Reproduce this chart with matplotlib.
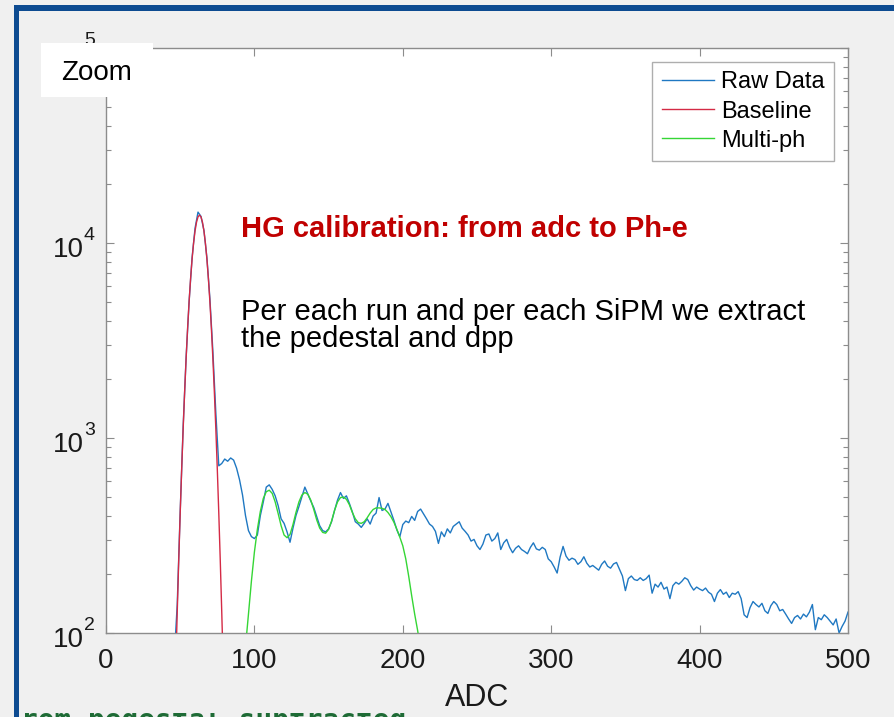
import numpy as np
import matplotlib
matplotlib.use("Agg")
import matplotlib.pyplot as plt
from matplotlib.patches import Rectangle
from matplotlib.transforms import ScaledTranslation, blended_transform_factory
from matplotlib.ticker import FixedLocator, FixedFormatter, LogLocator, NullFormatter

plt.rcParams['font.family'] = ['Liberation Sans', 'DejaVu Sans']

# ---------------- data ----------------
adc_raw = np.arange(44, 501, 2)
counts_raw = [
    40, 75, 140, 420, 1150, 2600, 5000, 8400, 11900, 14400,
    13700, 11600, 8400, 5200, 2800, 1350, 720, 740, 780, 760,
    790, 770, 700, 610, 510, 400, 335, 312, 305, 318,
    # 104..200
    400, 470, 560, 575, 545, 505, 450, 385, 365, 330,
    292, 345, 400, 445, 500, 560, 515, 475, 440, 395,
    355, 335, 330, 342, 372, 425, 480, 525, 490, 505,
    462, 418, 372, 362, 348, 365, 385, 362, 398, 412,
    495, 425, 432, 462, 418, 378, 338, 312, 360,
    # 202..300
    375, 368, 396, 378, 420, 432, 408, 385, 362, 352,
    332, 288, 330, 312, 342, 326, 352, 362, 372, 345,
    332, 318, 296, 302, 280, 268, 286, 318, 322, 296,
    305, 326, 268, 290, 302, 275, 258, 272, 280, 268,
    262, 255, 275, 290, 270, 266, 275, 268, 240, 232,
    # 302..400
    218, 203, 245, 278, 248, 236, 242, 238, 225, 232,
    246, 228, 218, 222, 216, 210, 225, 234, 220, 215,
    226, 230, 212, 196, 165, 190, 196, 188, 186, 192,
    186, 190, 198, 160, 178, 172, 182, 168, 172, 150,
    175, 182, 178, 184, 192, 188, 175, 166, 172, 168,
    # 402..500
    165, 170, 162, 158, 145, 160, 167, 158, 162, 152,
    160, 158, 163, 150, 124, 120, 135, 145, 140, 136,
    142, 130, 126, 138, 145, 140, 130, 132, 125, 118,
    112, 120, 123, 118, 125, 121, 128, 140, 104, 120,
    117, 124, 120, 115, 110, 118, 100, 108, 115, 128,
]

adc_base = np.arange(46, 81, 1)
counts_base = [
    35, 67, 128, 235, 412, 693, 1119, 1733, 2573, 3666,
    5011, 6568, 8259, 9961, 11525, 12789, 13614, 13900, 13614, 12789,
    11525, 9961, 8259, 6568, 5011, 3666, 2573, 1733, 1119, 693,
    412, 235, 128, 67, 35,
]

adc_multi = np.arange(94, 213, 2)
counts_multi = [
    85, 125, 185, 260, 340, 420, 490, 530, 540, 520,
    470, 410, 355, 318, 308, 320, 360, 415, 470, 510,
    525, 515, 480, 430, 380, 345, 328, 325, 340, 375,
    425, 470, 495, 498, 485, 455, 415, 385, 368, 365,
    372, 390, 412, 430, 438, 438, 436, 430, 415, 395,
    370, 340, 310, 280, 240, 195, 155, 125, 103, 82,
]

series_labels = ["Raw Data", "Baseline", "Multi-ph"]
x_ticks = [0, 100, 200, 300, 400, 500]
y_ticks = [1e2, 1e3, 1e4, 1e5]
y_exponents = ['2', '3', '4', '5']

# ---------------- figure ----------------
W, H = 895, 717
fig = plt.figure(figsize=(W / 100, H / 100), dpi=100)
fig.patch.set_facecolor('#f0f0f0')

def fx(px):
    return px / W

def fy(py):
    return 1 - py / H

ax = fig.add_axes([fx(106), fy(633), fx(848) - fx(106), fy(48) - fy(633)])
ax.set_facecolor('white')

ax.plot(adc_raw, counts_raw, color='#1f78c2', lw=1.0, label=series_labels[0], zorder=2)
ax.plot(adc_base, counts_base, color='#d42a45', lw=1.0, label=series_labels[1], zorder=3)
ax.plot(adc_multi, counts_multi, color='#35d635', lw=1.0, label=series_labels[2], zorder=3)

ax.set_yscale('log')
ax.set_xlim(0, 500)
ax.set_ylim(1e2, 1e5)

ax.xaxis.set_major_locator(FixedLocator(x_ticks))
ax.yaxis.set_major_locator(FixedLocator(y_ticks))
ax.yaxis.set_major_formatter(FixedFormatter(['10'] * len(y_ticks)))
ax.yaxis.set_minor_locator(LogLocator(base=10, subs=np.arange(2, 10)))
ax.yaxis.set_minor_formatter(NullFormatter())

spine_col = '#8c8c8c'
for s in ax.spines.values():
    s.set_color(spine_col)
    s.set_linewidth(1.0)

ax.tick_params(which='both', direction='in', top=True, right=True, color=spine_col,
               labelcolor='#1a1a1a')
ax.tick_params(which='major', length=6, width=0.8, labelsize=20)
ax.tick_params(which='minor', length=3.5, width=0.8)
ax.tick_params(axis='x', which='major', pad=11)
ax.tick_params(axis='y', which='major', pad=16)

# MATLAB style "10^n": base sits below the tick, exponent raised above it
shift = ScaledTranslation(0, -14 / 100, fig.dpi_scale_trans)
for tick in ax.yaxis.get_major_ticks():
    tick.label1.set_verticalalignment('baseline')
    tick.label1.set_transform(tick.label1.get_transform() + shift)

exp_tr = blended_transform_factory(ax.transAxes, ax.transData) + \
    ScaledTranslation(0, 3 / 100, fig.dpi_scale_trans)
for val, e in zip(y_ticks, y_exponents):
    ax.text((84 - 106) / 742, val, e, transform=exp_tr, fontsize=14, color='#1a1a1a',
            ha='left', va='baseline', clip_on=False)

ax.set_xlabel('ADC', fontsize=22, color='#1a1a1a', labelpad=6)

leg = ax.legend(loc='upper right', bbox_to_anchor=((834 - 106) / 742, 1 - (62 - 48) / 585),
                borderaxespad=0, fontsize=17, frameon=True, fancybox=False,
                handlelength=2.2, handletextpad=0.3, labelspacing=0.3,
                borderpad=0.4)
leg.get_frame().set_edgecolor('#9a9a9a')
leg.get_frame().set_linewidth(1.0)

# annotations
fig.text(fx(241), fy(237), 'HG calibration: from adc to Ph-e', color='#c00000',
         fontsize=21, fontweight='bold', va='baseline', ha='left', zorder=6)
fig.text(fx(241), fy(320), 'Per each run and per each SiPM we extract', color='black',
         fontsize=21, va='baseline', ha='left', zorder=6)
fig.text(fx(241), fy(347), 'the pedestal and dpp', color='black',
         fontsize=21, va='baseline', ha='left', zorder=6)

# Zoom label box
fig.add_artist(Rectangle((fx(41), fy(97)), fx(153) - fx(41), fy(43) - fy(97),
                         transform=fig.transFigure, facecolor='white', edgecolor='none', zorder=5))
fig.text(fx(61), fy(80), 'Zoom', fontsize=20, color='black', va='baseline', ha='left', zorder=6)

# cut-off slide text at bottom (only the top sliver shows)
fig.text(fx(21), fy(729), 'rom pedestal subtracted', color='#1e6b35', fontsize=20,
         family='DejaVu Sans Mono', fontweight='bold', va='baseline', ha='left', zorder=6)
fig.add_artist(Rectangle((fx(19), fy(713)), fx(425) - fx(19), fy(696) - fy(713),
                         transform=fig.transFigure, facecolor='#f0f0f0', edgecolor='none', zorder=6.5))

# slide frame (blue border)
border = '#0d4b91'
fig.add_artist(Rectangle((fx(14), 0), fx(19) - fx(14), fy(5), transform=fig.transFigure,
                         facecolor=border, edgecolor='none', zorder=7))
fig.add_artist(Rectangle((fx(14), fy(10.5)), 1 - fx(14), fy(5) - fy(10.5), transform=fig.transFigure,
                         facecolor=border, edgecolor='none', zorder=7))

fig.savefig('out.png', dpi=100, facecolor=fig.get_facecolor())
